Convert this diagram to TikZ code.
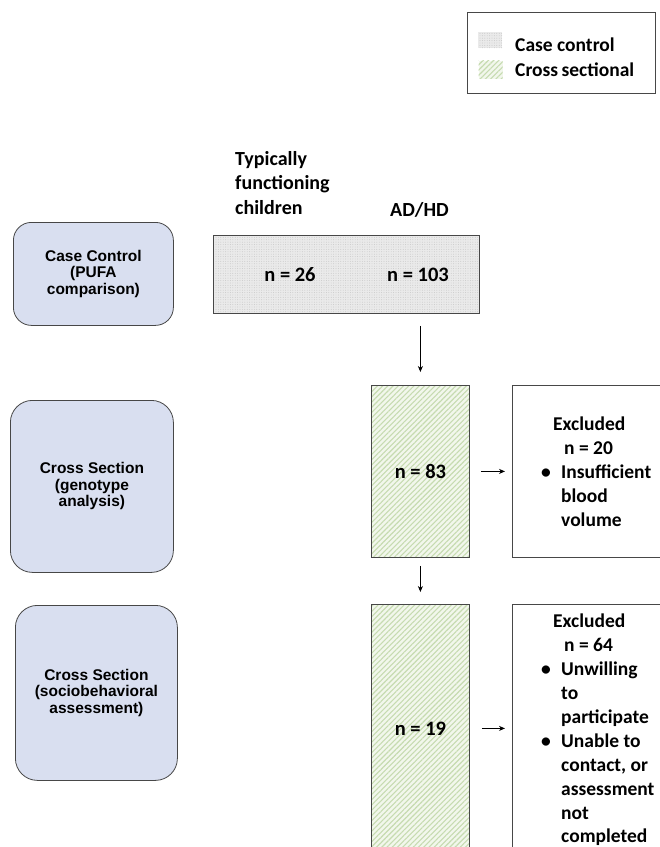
\documentclass[tikz,border=0pt]{standalone}
\usepackage{fontspec}
\setmainfont{Carlito}
\newfontfamily\arialf{Liberation Sans}
\usetikzlibrary{arrows.meta,patterns.meta}
\definecolor{bord}{HTML}{474747}
\definecolor{lav}{HTML}{D9DFF0}
\definecolor{ccfill}{HTML}{EAEAEA}
\definecolor{ccdot}{HTML}{C4C4C4}
\definecolor{csfill}{HTML}{F2F7EC}
\definecolor{csline}{HTML}{C6DBB0}
\begin{document}
\begin{tikzpicture}[x=1pt,y=-1pt,
  phase/.style={draw=bord, line width=0.8pt, fill=lav, rounded corners=18pt,
    font=\arialf\bfseries\fontsize{15.5}{16.5}\selectfont, align=center,
    inner sep=0, anchor=north west},
  plainbox/.style={draw=bord, line width=0.8pt, inner sep=0, anchor=north west},
  ccbox/.style={plainbox, preaction={fill=ccfill}, pattern color=ccdot,
    pattern={Dots[distance=2.4pt, radius=0.45pt]}},
  csbox/.style={plainbox, preaction={fill=csfill}, pattern color=csline,
    pattern={Lines[angle=45, distance=3.7pt, line width=1.1pt]},
    font=\bfseries\fontsize{20.5}{24}\selectfont},
  lbl/.style={font=\bfseries\fontsize{19.5}{24.5}\selectfont, inner sep=0, align=left},
  nlbl/.style={font=\bfseries\fontsize{20.5}{24}\selectfont, inner sep=0},
  exbox/.style={plainbox, fill=white},
  extext/.style={font=\bfseries\fontsize{19.5}{23.9}\selectfont, inner sep=0,
    align=left, anchor=north west},
  arr/.style={-{Stealth[length=6pt, width=5pt]}, line width=0.7pt, black}]
\useasboundingbox (0,0) rectangle (660,847);
\clip (0,0) rectangle (660,847);

% legend
\node[plainbox, minimum width=188pt, minimum height=81pt] (legend) at (467,12) {};
\node[plainbox, draw=none, preaction={fill=ccfill}, pattern color=ccdot,
  pattern={Dots[distance=2.4pt, radius=0.45pt]},
  minimum width=24pt, minimum height=16pt] (sw1) at (478,32) {};
\node[plainbox, draw=none, preaction={fill=csfill}, pattern color=csline,
  pattern={Lines[angle=45, distance=3.7pt, line width=1.1pt]},
  minimum width=24pt, minimum height=18pt] (sw2) at (478,60) {};
\node[lbl, anchor=west] (lg1) at (515,45) {Case control};
\node[lbl, anchor=west] (lg2) at (515,70) {Cross\hspace{-1pt} sectional};

% column labels
\node[lbl, anchor=north west, font=\bfseries\fontsize{20}{24.5}\selectfont] (tfc) at (235,151) {Typically\\functioning\\children};
\node[lbl, anchor=base west, font=\bfseries\fontsize{20}{24.5}\selectfont] (adhd) at (390,216) {AD/HD};

% phase boxes
\node[phase, minimum width=160pt, minimum height=103pt] (p1) at (13,222)
  {Case Control\\(PUFA\\comparison)};
\node[phase, minimum width=163pt, minimum height=172pt, rounded corners=22pt] (p2) at (10,400)
  {Cross Section\\(genotype\\analysis)};
\node[phase, minimum width=162pt, minimum height=175pt, rounded corners=22pt] (p3) at (15,605)
  {Cross Section\\(sociobehavioral\\assessment)};

% case control box
\node[ccbox, minimum width=266pt, minimum height=78pt] (cc) at (213,235) {};
\node[nlbl] (n26) at (290,275) {n = 26};
\node[nlbl] (n103) at (418,275) {n = 103};

% cross section boxes
\node[csbox, minimum width=98pt, minimum height=172pt] (b2) at (371,385) {n = 83};
\node[csbox, minimum width=98pt, minimum height=248pt, text depth=0pt] (b3) at (371,604) {};
\node[nlbl] (n19) at (b3.center) {n = 19};

% excluded boxes
\node[exbox, minimum width=200pt, minimum height=172pt] (ex1) at (512,385) {};
\node[extext] (ex1t) at (541,417)
  {\hspace*{12pt}Excluded\\
   \hspace*{23pt}n = 20\\
   \makebox[20pt][l]{\textbullet}Insufficient\\
   \hspace*{20pt}blood\\
   \hspace*{20pt}volume};
\node[exbox, minimum width=200pt, minimum height=260pt] (ex2) at (512,604) {};
\node[extext] (ex2t) at (541,614)
  {\hspace*{12pt}Excluded\\
   \hspace*{23pt}n = 64\\
   \makebox[20pt][l]{\textbullet}Unwilling\\
   \hspace*{20pt}to\\
   \hspace*{20pt}participate\\
   \makebox[20pt][l]{\textbullet}Unable to\\
   \hspace*{20pt}contact, or\\
   \hspace*{20pt}assessment\\
   \hspace*{20pt}not\\
   \hspace*{20pt}completed};

% arrows
\draw[arr, shorten <=12pt, shorten >=13pt] (cc.south -| b2.north) -- (b2.north);
\draw[arr, shorten <=8pt, shorten >=12pt] (b2.south) -- (b3.north);
\draw[arr, shorten <=11pt, shorten >=7pt] (b2.east) -- (b2.east -| ex1.west);
\draw[arr, shorten <=12pt, shorten >=7pt] (n19.east -| b3.east) -- (n19.east -| ex2.west);
\end{tikzpicture}
\end{document}
